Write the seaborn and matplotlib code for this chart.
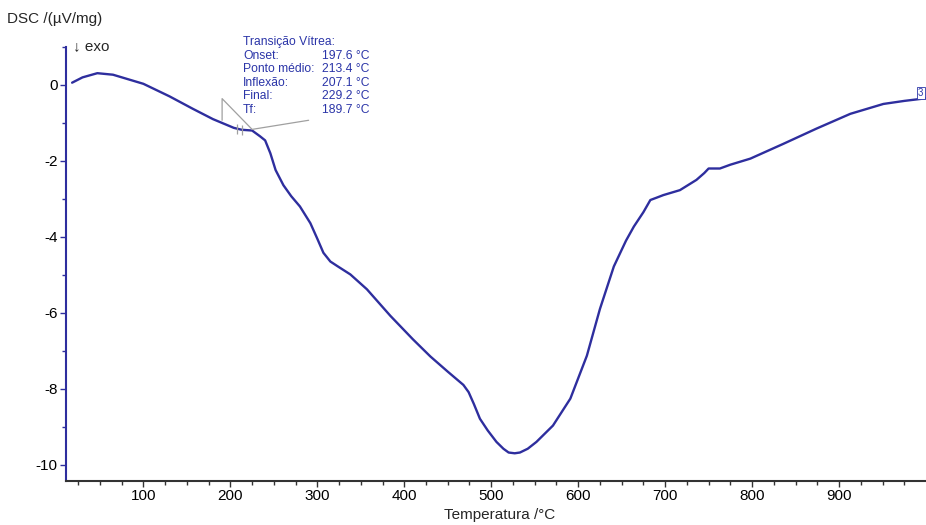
import matplotlib
matplotlib.use("Agg")
import matplotlib.pyplot as plt
import seaborn as sns
import pandas as pd
import numpy as np

# ---- data ----
temperature = [18, 30, 47, 65, 100, 130, 157, 180, 204, 213, 225, 234, 240, 246, 252,
               261, 270, 280, 292, 300, 307, 315, 323, 338, 357, 384, 410, 430, 450,
               468, 474, 480, 487, 496, 506, 514, 520, 527, 533, 542, 552, 571, 591,
               610, 625, 641, 655, 664, 675, 683, 690, 698, 717, 736, 745, 750, 754,
               763, 775, 798, 836, 874, 913, 951, 975, 993, 1000]
dsc = [0.06, 0.2, 0.31, 0.27, 0.03, -0.3, -0.63, -0.9, -1.13, -1.18, -1.2, -1.35, -1.46,
       -1.8, -2.24, -2.64, -2.93, -3.2, -3.64, -4.05, -4.42, -4.65, -4.77, -4.99, -5.38,
       -6.08, -6.7, -7.15, -7.55, -7.9, -8.09, -8.4, -8.79, -9.1, -9.4, -9.58, -9.68,
       -9.7, -9.68, -9.58, -9.4, -8.97, -8.26, -7.13, -5.9, -4.78, -4.1, -3.73, -3.35,
       -3.03, -2.97, -2.9, -2.77, -2.5, -2.32, -2.2, -2.2, -2.2, -2.1, -1.94, -1.55,
       -1.15, -0.76, -0.5, -0.42, -0.37, -0.35]

x_ticks = [100, 200, 300, 400, 500, 600, 700, 800, 900]
y_ticks = [0, -2, -4, -6, -8, -10]

gt_labels = ["Onset:", "Ponto médio:", "Inflexão:", "Final:", "Tf:"]
gt_values = [197.6, 213.4, 207.1, 229.2, 189.7]

# glass-transition construction lines
constr_x = [190.5, 190.5, 225, 290]
constr_y = [-0.93, -0.36, -1.17, -0.93]
mark_x = [207.1, 213.4]
mark_y = [-1.16, -1.18]

df = pd.DataFrame({"Temperatura": temperature, "DSC": dsc})

blue = "#2e2e9e"
txt_blue = "#2b35a8"

sns.set_theme(style="white")
plt.rcParams["font.family"] = ["Liberation Sans", "DejaVu Sans"]
plt.rcParams["axes.unicode_minus"] = False

fig = plt.figure(figsize=(9.26, 5.25), dpi=100)
ax = fig.add_axes([0.0713, 0.0838, 0.9287, 0.8267])

sns.lineplot(data=df, x="Temperatura", y="DSC", ax=ax, color=blue, linewidth=1.7,
             sort=False)

ax.plot(constr_x, constr_y, color="#a0a0a0", linewidth=0.9)
ax.plot(mark_x, mark_y, linestyle="none", marker="|", markersize=7,
        color="#a0a0a0", markeredgewidth=0.9)

ax.set_xlim(11, 1000)
ax.set_ylim(-10.43, 0.98)
ax.set_xticks(x_ticks)
ax.set_xticks(np.arange(25, 1000, 25), minor=True)
ax.set_yticks(y_ticks)
ax.set_yticks([1, -1, -3, -5, -7, -9], minor=True)
ax.tick_params(axis="both", which="major", labelsize=11, length=4, width=1,
               direction="out", bottom=True, left=True, pad=2, labelcolor="black")
ax.tick_params(axis="both", which="minor", length=3, width=1, direction="out",
               bottom=True, left=True)
ax.tick_params(axis="y", which="both", color=blue)
ax.tick_params(axis="x", which="both", color="#333333")

for s in ["top", "right"]:
    ax.spines[s].set_visible(False)
ax.spines["left"].set_color(blue)
ax.spines["left"].set_linewidth(1.5)
ax.spines["bottom"].set_color("#333333")
ax.spines["bottom"].set_linewidth(1.5)

ax.set_xlabel("")
ax.set_ylabel("")
fig.text(500 / 926, 1 - 515 / 525, "Temperatura /°C", ha="center", va="center",
         fontsize=11)
fig.text(7 / 926, 1 - 19 / 525, "DSC /(µV/mg)", ha="left", va="center", fontsize=11)
fig.text(73 / 926, 1 - 46 / 525, "↓ exo", ha="left", va="center", fontsize=11,
         family=["Liberation Sans", "DejaVu Sans"])

# glass transition annotation
x0 = 243 / 926
xv = 322 / 926
y0 = 1 - 42.5 / 525
dy = 13.4 / 525
fig.text(x0, y0, "Transição Vítrea:", ha="left", va="center", fontsize=8.7,
         color=txt_blue)
for i, (lab, val) in enumerate(zip(gt_labels, gt_values)):
    yy = y0 - (i + 1) * dy
    fig.text(x0, yy, lab, ha="left", va="center", fontsize=8.7, color=txt_blue)
    fig.text(xv, yy, f"{val:.1f} °C", ha="left", va="center", fontsize=8.7,
             color=txt_blue)

ax.text(991, -0.2, "3", ha="left", va="center", fontsize=7, color=txt_blue,
        bbox=dict(boxstyle="square,pad=0.1", fc="white", ec=txt_blue, lw=0.6),
        clip_on=False)

fig.savefig("out.png", dpi=100)
